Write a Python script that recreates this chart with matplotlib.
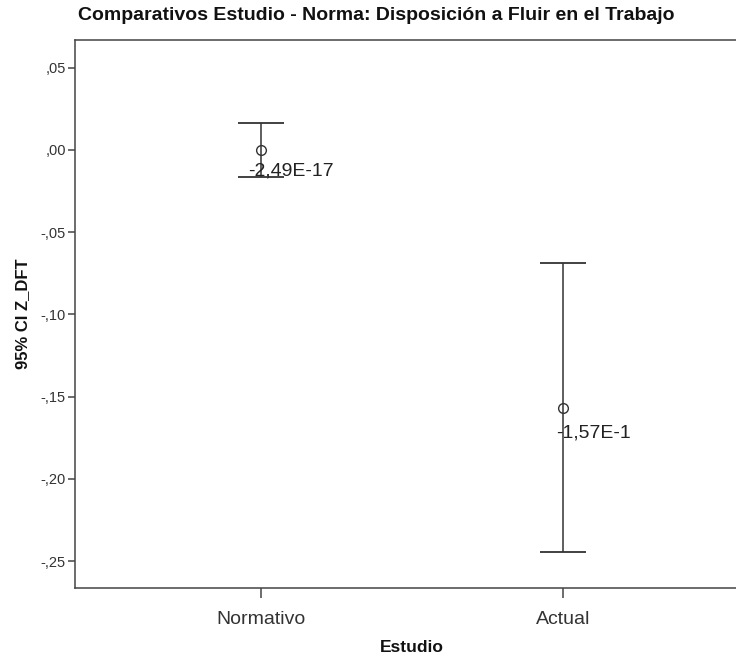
import matplotlib
matplotlib.use("Agg")
import matplotlib.pyplot as plt
from matplotlib.ticker import FuncFormatter, FixedLocator

plt.rcParams['font.family'] = ['Liberation Sans', 'DejaVu Sans']

# Group means and 95% confidence limits of Z_DFT
categories = ["Normativo", "Actual"]
means = [-2.49e-17, -0.157]
ci_lower = [-0.0165, -0.2444]
ci_upper = [0.0165, -0.069]
y_ticks = [0.05, 0.00, -0.05, -0.10, -0.15, -0.20, -0.25]

W, H = 736, 660
fig = plt.figure(figsize=(W / 100, H / 100), dpi=100)
fig.patch.set_facecolor("white")

# axes box in pixel terms (right edge runs past the figure border)
left, right, top, bottom = 75, 749, 40, 588
ax = fig.add_axes([left / W, 1 - bottom / H, (right - left) / W, (bottom - top) / H])

xs = list(range(len(categories)))
line_col = "#333333"
err_lo = [m - lo for m, lo in zip(means, ci_lower)]
err_hi = [hi - m for m, hi in zip(means, ci_upper)]
ax.errorbar(xs, means, yerr=[err_lo, err_hi], fmt="none", ecolor=line_col,
            elinewidth=1.1, capsize=16.5, capthick=1.3, zorder=2)
ax.plot(xs, means, linestyle="none", marker="o", markersize=7,
        markerfacecolor="none", markeredgecolor=line_col, markeredgewidth=1.0, zorder=3)


def sci_label(v):
    mant, exp = f"{v:.2E}".split("E")
    return f"{mant.replace('.', ',')}E{int(exp)}"


offsets = [(-13, -21), (-7, -25)]
for x, m, off in zip(xs, means, offsets):
    ax.annotate(sci_label(m), (x, m), xytext=off, textcoords="offset pixels",
                ha="left", va="center", fontsize=14, color="#222222", zorder=4)

# category spacing with symmetric margins
span = right - left
pos0 = (261 - left) / 302.0
ax.set_xlim(-pos0, -pos0 + span / 302.0)
ax.set_ylim(-0.2664, 0.0668)

ax.xaxis.set_major_locator(FixedLocator(xs))
ax.set_xticklabels(categories)
ax.yaxis.set_major_locator(FixedLocator(y_ticks))


def comma_fmt(v, pos):
    s = f"{abs(v):.2f}".lstrip("0").replace(".", ",")
    return ("-" if v < -1e-9 else "") + s


ax.yaxis.set_major_formatter(FuncFormatter(comma_fmt))

ax.tick_params(axis="y", direction="out", length=5, width=1.1, color="#444444",
               labelsize=10.5, labelcolor="#333333", pad=1.5)
ax.tick_params(axis="x", direction="out", length=7.5, width=1.1, color="#444444",
               labelsize=14, labelcolor="#333333", pad=9)

for side in ["left", "bottom", "top", "right"]:
    ax.spines[side].set_color("#444444")
    ax.spines[side].set_linewidth(1.1)

ax.set_xlabel("Estudio", fontsize=12.5, fontweight="bold", color="#111111", labelpad=9)
ax.set_ylabel("95% CI Z_DFT", fontsize=12, fontweight="bold", color="#111111", labelpad=8)

fig.text(78 / W, 1 - 15 / H, "Comparativos Estudio - Norma: Disposición a Fluir en el Trabajo",
         ha="left", va="center", fontsize=14, fontweight="bold", color="#111111")

fig.savefig("out.png", dpi=100, facecolor="white")
